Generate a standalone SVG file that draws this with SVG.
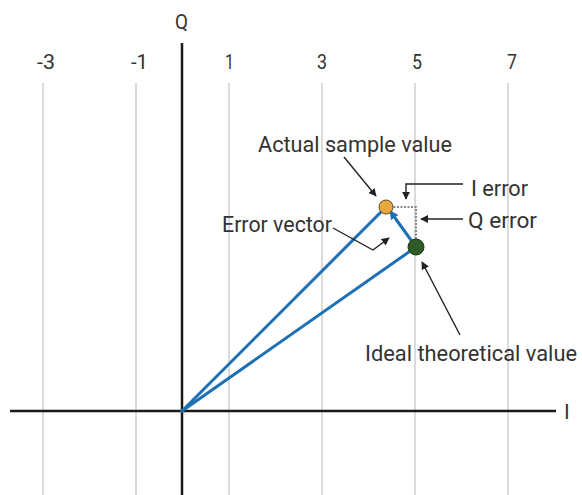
<svg xmlns="http://www.w3.org/2000/svg" width="582" height="495" viewBox="0 0 582 495">
<style>
.t{font-family:"Roboto","Liberation Sans",sans-serif;fill:#333;}
.lab{font-size:22px;}
.num{font-size:21px;}
.grid{stroke:#cfcfcf;stroke-width:1.5;}
.axis{stroke:#1a1a1a;stroke-width:2.5;}
.call{stroke:#222;stroke-width:1.4;fill:none;}
.vec{stroke:#1c70b3;stroke-width:3;fill:none;stroke-linecap:round;}
</style>
<defs>
<marker id="ah" viewBox="0 0 10 10" refX="9" refY="5" markerWidth="8" markerHeight="8" markerUnits="userSpaceOnUse" orient="auto">
<path d="M0,0 L10,5 L0,10 z" fill="#222"/>
</marker>
<marker id="bh" viewBox="0 0 10 10" refX="9" refY="5" markerWidth="9" markerHeight="9" markerUnits="userSpaceOnUse" orient="auto">
<path d="M0,0 L10,5 L0,10 z" fill="#1c70b3"/>
</marker>
</defs>
<rect width="582" height="495" fill="#fff"/>
<g id="grid">
<line class="grid" x1="43" y1="83" x2="43" y2="495"/>
<line class="grid" x1="136" y1="83" x2="136" y2="495"/>
<line class="grid" x1="229" y1="83" x2="229" y2="495"/>
<line class="grid" x1="322" y1="83" x2="322" y2="495"/>
<line class="grid" x1="415" y1="83" x2="415" y2="495"/>
<line class="grid" x1="508" y1="83" x2="508" y2="495"/>
</g>
<g id="ticks" class="t num">
<text x="37" y="69" textLength="18" lengthAdjust="spacingAndGlyphs">-3</text>
<text x="131" y="69" textLength="17" lengthAdjust="spacingAndGlyphs">-1</text>
<text x="225" y="69" textLength="9" lengthAdjust="spacingAndGlyphs">1</text>
<text x="317" y="69" textLength="10" lengthAdjust="spacingAndGlyphs">3</text>
<text x="412" y="69" textLength="10" lengthAdjust="spacingAndGlyphs">5</text>
<text x="507" y="69" textLength="10" lengthAdjust="spacingAndGlyphs">7</text>
</g>
<g id="axes">
<line class="axis" x1="182" y1="43" x2="182" y2="495"/>
<line class="axis" x1="10" y1="411" x2="556" y2="411"/>
<text class="t num" x="175" y="29" textLength="13" lengthAdjust="spacingAndGlyphs">Q</text>
<text class="t num" x="564" y="419" font-size="23">I</text>
</g>
<g id="connectors">
<line class="vec" x1="182" y1="411" x2="386" y2="207"/>
<line class="vec" x1="182" y1="411" x2="416" y2="247"/>
<polyline points="390,207 416,207 416,240" fill="none" stroke="#888" stroke-width="2" stroke-dasharray="2,1.5"/>
<line class="vec" x1="416" y1="247" x2="390" y2="211" marker-end="url(#bh)"/>
<line class="call" x1="344" y1="157" x2="376" y2="196" marker-end="url(#ah)"/>
<polyline class="call" points="463,184 406,184 406,199" marker-end="url(#ah)"/>
<line class="call" x1="463" y1="219" x2="421" y2="219" marker-end="url(#ah)"/>
<polyline class="call" points="333,228 373,250 389,238" marker-end="url(#ah)"/>
<line class="call" x1="460" y1="335" x2="422" y2="262" marker-end="url(#ah)"/>
</g>
<g id="actual">
<circle cx="386" cy="207" r="7" fill="#e9a83a" stroke="#5a4a2a" stroke-width="1"/>
<text class="t lab" x="258" y="152" textLength="194" lengthAdjust="spacingAndGlyphs">Actual sample value</text>
</g>
<g id="ideal">
<circle cx="416" cy="247" r="8" fill="#2e5b26" stroke="#1e3a18" stroke-width="1"/>
<text class="t lab" x="365" y="361" textLength="212" lengthAdjust="spacingAndGlyphs">Ideal theoretical value</text>
</g>
<g id="ierror">
<text class="t lab" x="471" y="196" textLength="57" lengthAdjust="spacingAndGlyphs">I error</text>
</g>
<g id="qerror">
<text class="t lab" x="468" y="228" textLength="69" lengthAdjust="spacingAndGlyphs">Q error</text>
</g>
<g id="errorvector">
<text class="t lab" x="222" y="232" textLength="110" lengthAdjust="spacingAndGlyphs">Error vector</text>
</g>
</svg>
